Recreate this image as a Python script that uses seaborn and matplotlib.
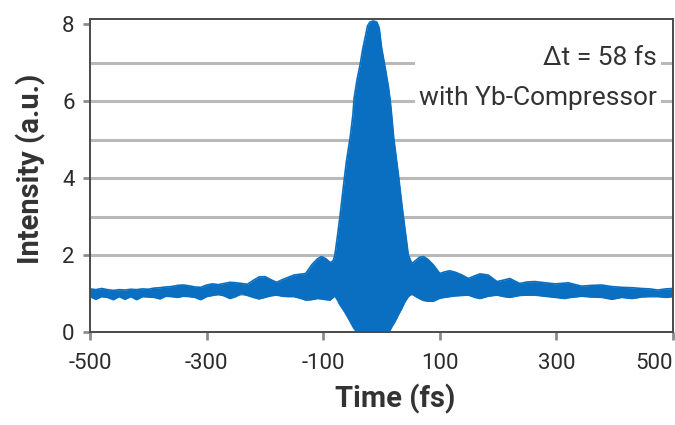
import matplotlib
matplotlib.use("Agg")
import matplotlib.pyplot as plt
import seaborn as sns
import pandas as pd

# Interferometric autocorrelation trace: upper and lower fringe envelopes
time_fs = [-500, -490, -480, -470, -460, -450, -440, -430, -420, -410,
           -400, -390, -380, -370, -360, -350, -340, -330, -320, -310,
           -300, -290, -280, -270, -260, -250, -240, -230, -220, -210,
           -200, -190, -180, -170, -160, -150, -140, -130, -120, -110,
           -103, -95, -88, -83, -80, -75, -71, -63, -60, -54,
           -49, -47, -42, -36, -32, -28, -24, -20, -14, -8,
           -4, 0, 7, 12, 15, 17, 21, 23, 29, 35,
           40, 46, 52, 58, 65, 72, 80, 89, 100, 108,
           117, 127, 138, 149, 160, 169, 183, 198, 210, 220,
           237, 250, 263, 280, 298, 315, 320, 343, 360, 378,
           395, 412, 430, 446, 460, 474, 488, 500]

upper = [1.12, 1.10, 1.13, 1.10, 1.08, 1.10, 1.09, 1.11, 1.10, 1.12,
         1.11, 1.14, 1.15, 1.17, 1.18, 1.21, 1.22, 1.20, 1.17, 1.16,
         1.22, 1.25, 1.23, 1.26, 1.29, 1.28, 1.26, 1.24, 1.34, 1.43,
         1.44, 1.36, 1.29, 1.36, 1.42, 1.48, 1.50, 1.52, 1.74, 1.90,
         1.96, 1.90, 1.80, 1.85, 2.00, 2.55, 3.04, 4.08, 4.45, 5.03,
         5.65, 6.07, 6.55, 7.00, 7.37, 7.65, 7.95, 8.05, 8.08, 8.05,
         7.90, 7.40, 6.80, 6.35, 6.00, 5.70, 5.03, 4.80, 4.08, 3.30,
         2.70, 2.00, 1.78, 1.85, 1.94, 1.96, 1.88, 1.74, 1.52, 1.56,
         1.59, 1.55, 1.48, 1.39, 1.46, 1.51, 1.48, 1.31, 1.35, 1.39,
         1.26, 1.30, 1.31, 1.28, 1.25, 1.27, 1.28, 1.19, 1.21, 1.22,
         1.18, 1.16, 1.15, 1.13, 1.12, 1.09, 1.12, 1.13]

lower = [0.92, 0.85, 0.92, 0.90, 0.84, 0.92, 0.85, 0.92, 0.84, 0.92,
         0.91, 0.90, 0.86, 0.93, 0.92, 0.90, 0.93, 0.92, 0.90, 0.84,
         0.92, 0.95, 0.98, 0.94, 0.87, 0.92, 1.00, 0.95, 0.90, 0.86,
         0.90, 0.94, 0.96, 0.93, 0.92, 0.92, 0.88, 0.83, 0.84, 0.87,
         0.86, 0.84, 0.83, 0.90, 0.94, 0.82, 0.70, 0.52, 0.44, 0.28,
         0.14, 0.09, 0.00, 0.00, 0.00, 0.00, 0.00, 0.00, 0.00, 0.00,
         0.00, 0.00, 0.00, 0.00, 0.06, 0.12, 0.22, 0.27, 0.45, 0.62,
         0.78, 0.92, 1.00, 0.93, 0.87, 0.82, 0.80, 0.80, 0.88, 0.90,
         0.92, 0.94, 0.95, 0.96, 0.90, 0.87, 0.93, 0.96, 0.92, 0.90,
         0.95, 0.96, 0.96, 0.93, 0.90, 0.87, 0.89, 0.93, 0.91, 0.90,
         0.85, 0.90, 0.87, 0.91, 0.92, 0.92, 0.90, 0.92]

x_ticks = [-500, -300, -100, 100, 300, 500]
y_ticks = [0, 2, 4, 6, 8]
grid_levels = [1, 2, 3, 4, 5, 6, 7]
annotation_lines = ["\u0394t = 58 fs", "with Yb-Compressor"]

trace = pd.DataFrame({"time": time_fs, "upper": upper, "lower": lower})

sns.set_theme(style="white")
plt.rcParams["font.family"] = ["Roboto", "DejaVu Sans"]

BLUE = "#0a6fc0"
GRID = "#b9b9b9"
SPINE = "#4a4a4a"
TEXT = "#2b2b2b"

fig = plt.figure(figsize=(6.75, 4.25), dpi=100)
ax = fig.add_axes([90 / 675, 1 - 332 / 425, 583 / 675, 313 / 425])

for level in grid_levels:
    ax.axhline(level, color=GRID, lw=2.2, zorder=0.5)

ax.fill_between(trace["time"], trace["lower"], trace["upper"],
                color=BLUE, lw=0, zorder=2)
sns.lineplot(data=trace, x="time", y="upper", ax=ax, color=BLUE, lw=1.2,
             zorder=2.1, estimator=None)
sns.lineplot(data=trace, x="time", y="lower", ax=ax, color=BLUE, lw=1.2,
             zorder=2.1, estimator=None)

ax.set_xlim(-500, 500)
ax.set_ylim(0, 8.13)
ax.set_xticks(x_ticks)
ax.set_xticklabels([str(v) for v in x_ticks])
ax.set_yticks(y_ticks)

for side in ["left", "bottom", "top", "right"]:
    ax.spines[side].set_color(SPINE)
    ax.spines[side].set_linewidth(1.4)
    ax.spines[side].set_zorder(3)

ax.tick_params(axis="x", which="major", direction="out", length=6, width=2,
               color="#8c8c8c", labelsize=16, labelcolor=TEXT, pad=9,
               bottom=True)
ax.tick_params(axis="y", which="major", direction="out", length=5, width=2,
               color="#8c8c8c", labelsize=16, labelcolor=TEXT, pad=6,
               left=True)
# keep the last x label inside the figure edge
ax.get_xticklabels()[-1].set_horizontalalignment("right")

ax.set_xlabel("Time (fs)", fontsize=21, fontweight="bold", color="#333333")
ax.set_ylabel("Intensity (a.u.)", fontsize=21, fontweight="bold",
              color="#333333")
ax.xaxis.set_label_coords(0.523, -0.165)
ax.yaxis.set_label_coords(-0.075, 0.52)

ax.text(0.9726, 0.812, "\n".join(annotation_lines), transform=ax.transAxes,
        ha="right", va="center", multialignment="right", fontsize=19,
        color="#333333", linespacing=1.85, zorder=4,
        bbox=dict(facecolor="white", edgecolor="none", pad=3))

fig.savefig("out.png", dpi=100)
